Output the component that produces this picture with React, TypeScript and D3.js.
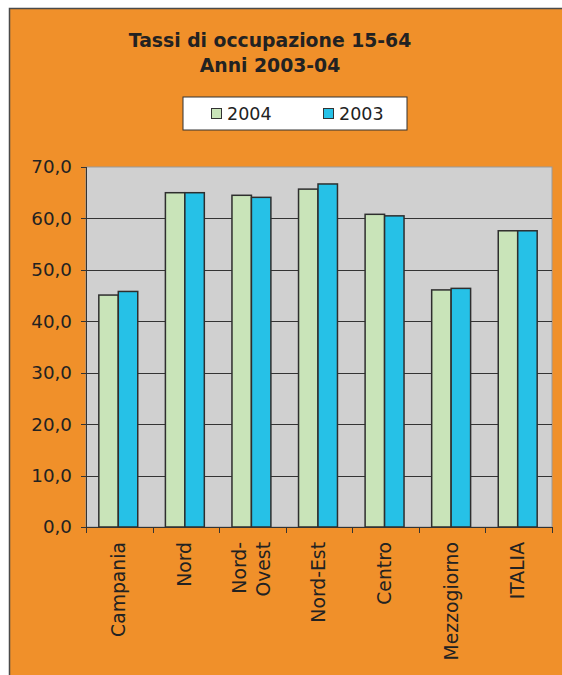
import React from "react";
import * as d3 from "d3";

const categories = ["Campania", "Nord", "Nord-Ovest", "Nord-Est", "Centro", "Mezzogiorno", "ITALIA"];
const categoryLines = [["Campania"], ["Nord"], ["Nord-", "Ovest"], ["Nord-Est"], ["Centro"], ["Mezzogiorno"], ["ITALIA"]];
const seriesNames = ["2004", "2003"];
const values2004 = [45.1, 65.0, 64.5, 65.7, 60.8, 46.1, 57.6];
const values2003 = [45.8, 65.0, 64.1, 66.7, 60.5, 46.4, 57.6];
const yTicks = [0, 10, 20, 30, 40, 50, 60, 70];
const titleLines = ["Tassi di occupazione 15-64", "Anni 2003-04"];

const W = 562, H = 675;
const plot = { left: 86, right: 552, top: 167, bottom: 527 };
const colors: Record<string, string> = { "2004": "#C9E4B9", "2003": "#26C1E7" };
const font = "'DejaVu Sans', Verdana, sans-serif";

export default function App() {
  const x = d3.scaleBand<string>().domain(categories).range([plot.left, plot.right]).padding(0);
  const x1 = d3.scaleBand<string>().domain(seriesNames).range([0, x.bandwidth()]).paddingInner(0).paddingOuter(0.71);
  const y = d3.scaleLinear().domain([0, 70]).range([plot.bottom, plot.top]);
  const series = [values2004, values2003];
  const fmt = (v: number) => d3.format(".1f")(v).replace(".", ",");

  return (
    <svg width={W} height={H} style={{ position: "absolute", left: 0, top: 0 }} fontFamily={font}>
      <rect x={0} y={0} width={W} height={H} fill="#fff" />
      <rect x={9.5} y={8.5} width={W} height={H} fill="#F0902A" stroke="#4a4a4a" strokeWidth={1.5} />
      {titleLines.map((t, i) => (
        <text key={i} x={270} y={47 + i * 25} textAnchor="middle" fontWeight="bold" fontSize={18.8} fill="#222">{t}</text>
      ))}
      {/* legend */}
      <rect x={183} y={97} width={224} height={33} fill="#fff" stroke="#333" strokeWidth={1} />
      {seriesNames.map((s, i) => (
        <g key={s} transform={`translate(${211 + i * 112},0)`}>
          <rect x={0.5} y={108.5} width={10} height={10} fill={colors[s]} stroke="#333" strokeWidth={1} />
          <text x={16} y={120} fontSize={17.5} fill="#222">{s}</text>
        </g>
      ))}
      {/* plot area */}
      <rect x={plot.left} y={plot.top} width={plot.right - plot.left} height={plot.bottom - plot.top} fill="#D0D0D0" stroke="#9a9a9a" strokeWidth={1} />
      {yTicks.filter(t => t > 0 && t < 70).map(t => (
        <line key={t} x1={plot.left} x2={plot.right} y1={Math.round(y(t)) + 0.5} y2={Math.round(y(t)) + 0.5} stroke="#333" strokeWidth={1} />
      ))}
      {/* bars */}
      {categories.map((c, ci) => (
        <g key={c} transform={`translate(${x(c)! - 1},0)`}>
          {seriesNames.map((s, si) => (
            <rect key={s} x={x1(s)!} y={y(series[si][ci])} width={x1.bandwidth()} height={y(0) - y(series[si][ci])}
              fill={colors[s]} stroke="#2e2e2e" strokeWidth={1.5} />
          ))}
        </g>
      ))}
      {/* y axis */}
      <line x1={plot.left + 0.5} x2={plot.left + 0.5} y1={plot.top} y2={plot.bottom} stroke="#333" strokeWidth={1} />
      {yTicks.map(t => (
        <g key={t}>
          <line x1={plot.left - 5} x2={plot.left} y1={Math.round(y(t)) + 0.5} y2={Math.round(y(t)) + 0.5} stroke="#333" />
          <text x={72} y={y(t)} dy="0.35em" textAnchor="end" fontSize={18.3} fill="#222">{fmt(t)}</text>
        </g>
      ))}
      {/* x axis */}
      <line x1={plot.left} x2={plot.right} y1={plot.bottom + 0.5} y2={plot.bottom + 0.5} stroke="#333" strokeWidth={1} />
      {[...categories.map(c => x(c)!), plot.right].map((v, i) => (
        <line key={i} x1={Math.round(v) + 0.5} x2={Math.round(v) + 0.5} y1={plot.bottom} y2={plot.bottom + 6} stroke="#333" />
      ))}
      {categories.map((c, ci) => {
        const lines = categoryLines[ci];
        const cx = x(c)! + x.bandwidth() / 2 - 1;
        return (
          <text key={c} transform={`translate(${cx},${542}) rotate(-90)`} textAnchor="end" fontSize={18.8} fill="#222">
            {lines.map((l, li) => (
              <tspan key={li} x={0} y={(li - (lines.length - 1) / 2) * 24} dy="0.35em">{l}</tspan>
            ))}
          </text>
        );
      })}
    </svg>
  );
}
